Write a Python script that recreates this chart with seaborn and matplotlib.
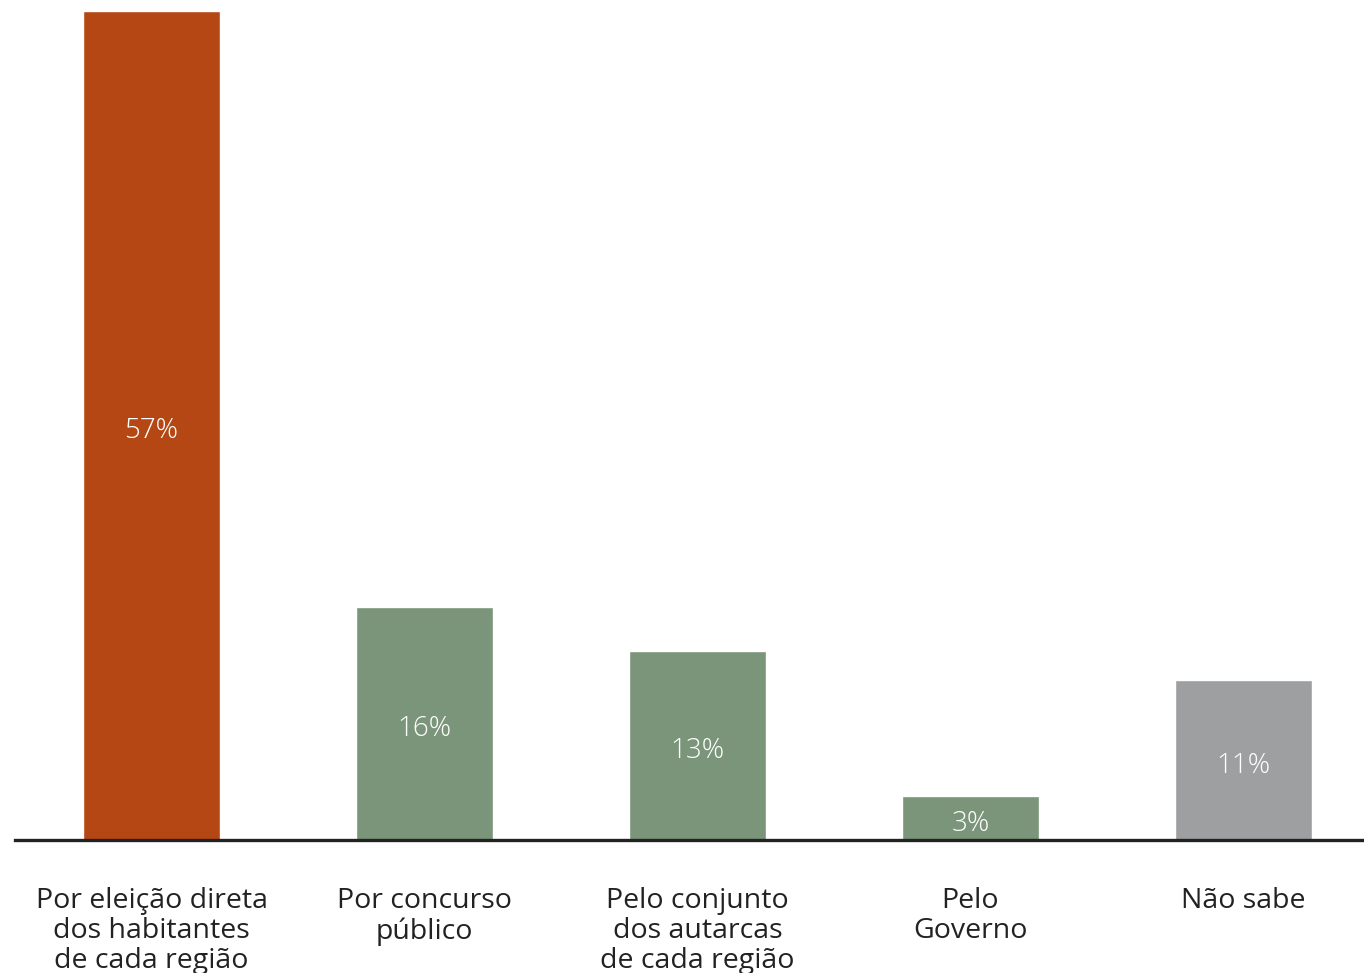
import matplotlib
matplotlib.use("Agg")
import matplotlib.pyplot as plt
import seaborn as sns
import pandas as pd

categories = ["Por eleição direta\ndos habitantes\nde cada região",
              "Por concurso\npúblico",
              "Pelo conjunto\ndos autarcas\nde cada região",
              "Pelo\nGoverno",
              "Não sabe"]
values = [57, 16, 13, 3, 11]
value_labels = ["57%", "16%", "13%", "3%", "11%"]
colors = ["#B54714", "#7B957B", "#7B957B", "#7B957B", "#9E9FA1"]

sns.set_theme(style="white")
plt.rcParams['font.family'] = ['Open Sans', 'DejaVu Sans']

df = pd.DataFrame({"cat": categories, "val": values})

fig = plt.figure(figsize=(13.64, 9.73), dpi=100)
ax = fig.add_axes([15/1364, 133/973, (1364-15)/1364, (840-11)/973])
sns.barplot(data=df, x="cat", y="val", hue="cat", palette=colors, legend=False,
            width=0.5, saturation=1, ax=ax)
ax.set_xlim(-0.5, -0.5 + (1364-15)/273)
ax.set_ylim(0, 57)

for i, (v, lab) in enumerate(zip(values, value_labels)):
    ax.annotate(lab, xy=(i, v/2), xytext=(0, -4), textcoords="offset points",
                ha="center", va="center", color="white", fontsize=20,
                fontweight="light")

for s in ["top", "left", "right"]:
    ax.spines[s].set_visible(False)
ax.spines["bottom"].set_color("#222222")
ax.spines["bottom"].set_linewidth(2.4)
ax.set_yticks([])
ax.set_xlabel("")
ax.set_ylabel("")
ax.tick_params(axis="x", length=0, pad=34, labelsize=20.5, labelcolor="#222222")
for t in ax.get_xticklabels():
    t.set_linespacing(1.1)
    t.set_va("top")

fig.savefig("out.png", dpi=100)
